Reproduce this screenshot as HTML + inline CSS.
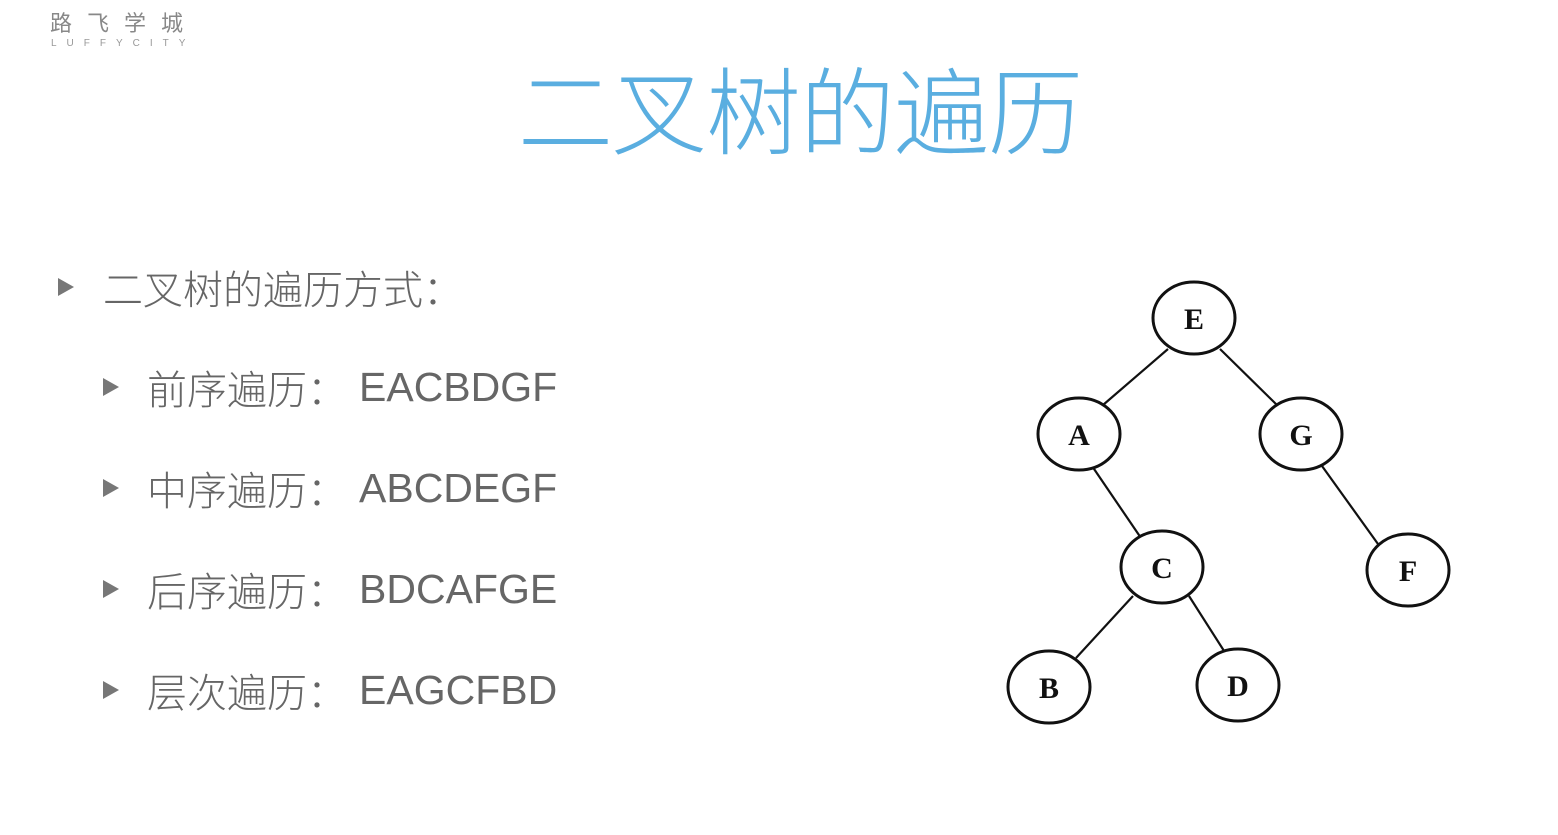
<!DOCTYPE html>
<html><head><meta charset="utf-8"><style>
body{margin:0;width:1558px;height:835px;background:#fff;position:relative;overflow:hidden;font-family:"Liberation Sans","Noto Sans CJK SC",sans-serif;}
.a{position:absolute;white-space:nowrap;}
.t{color:#5aaee0;font-size:95px;font-weight:300;left:518px;top:38px;letter-spacing:-1px;}
.l{color:#666;font-size:40px;font-weight:300;}
.e{color:#666;font-size:41px;}
.tri{position:absolute;width:0;height:0;border-top:9px solid transparent;border-bottom:9px solid transparent;border-left:16px solid #777;}
</style></head><body>
<div class="a" style="left:50px;top:6px;font-size:22px;color:#888;letter-spacing:15px">路飞学城</div>
<div class="a" style="left:51px;top:38px;font-size:10px;color:#999;letter-spacing:10px">LUFFYCITY</div>
<div class="a t">二叉树的遍历</div>
<div class="tri" style="left:58px;top:278px"></div>
<div class="a l" style="left:103px;top:258px">二叉树的遍历方式：</div>
<div class="tri" style="left:103px;top:378px"></div>
<div class="a l" style="left:147px;top:358px">前序遍历：</div><div class="a e" style="left:359px;top:364px">EACBDGF</div>
<div class="tri" style="left:103px;top:479px"></div>
<div class="a l" style="left:147px;top:459px">中序遍历：</div><div class="a e" style="left:359px;top:465px">ABCDEGF</div>
<div class="tri" style="left:103px;top:580px"></div>
<div class="a l" style="left:147px;top:560px">后序遍历：</div><div class="a e" style="left:359px;top:566px">BDCAFGE</div>
<div class="tri" style="left:103px;top:681px"></div>
<div class="a l" style="left:147px;top:661px">层次遍历：</div><div class="a e" style="left:359px;top:667px">EAGCFBD</div>
<svg class="a" style="left:0;top:0" width="1558" height="835">
<g stroke="#111" stroke-width="2.2" fill="none">
<line x1="1168" y1="349" x2="1103" y2="405"/>
<line x1="1220" y1="349" x2="1277" y2="405"/>
<line x1="1092" y1="466" x2="1141" y2="538"/>
<line x1="1322" y1="466" x2="1378" y2="544"/>
<line x1="1133" y1="596" x2="1076" y2="658"/>
<line x1="1189" y1="596" x2="1226" y2="654"/>
</g>
<g stroke="#111" stroke-width="3" fill="#fff">
<ellipse cx="1194" cy="318" rx="41" ry="36"/>
<ellipse cx="1079" cy="434" rx="41" ry="36"/>
<ellipse cx="1301" cy="434" rx="41" ry="36"/>
<ellipse cx="1162" cy="567" rx="41" ry="36"/>
<ellipse cx="1408" cy="570" rx="41" ry="36"/>
<ellipse cx="1049" cy="687" rx="41" ry="36"/>
<ellipse cx="1238" cy="685" rx="41" ry="36"/>
</g>
<g font-family="Liberation Serif,serif" font-size="30" font-weight="bold" fill="#111" text-anchor="middle">
<text x="1194" y="329">E</text><text x="1079" y="445">A</text><text x="1301" y="445">G</text>
<text x="1162" y="578">C</text><text x="1408" y="581">F</text><text x="1049" y="698">B</text><text x="1238" y="696">D</text>
</g>
</svg>
</body></html>
